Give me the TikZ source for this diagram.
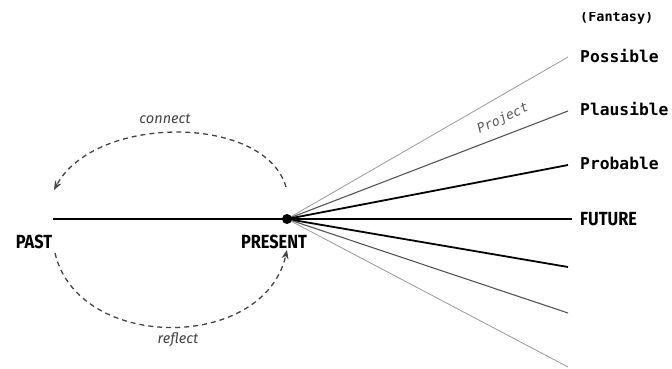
\documentclass[tikz,border=0pt]{standalone}
\usepackage{fontspec}
\setmainfont{Fira Sans}
\newfontfamily\monof{DejaVu Sans Mono}
\usetikzlibrary{arrows.meta}
\definecolor{arcgray}{HTML}{444444}
\definecolor{midgray}{HTML}{555555}
\definecolor{lightgray}{HTML}{9A9A9A}
\newcommand{\cond}[1]{\scalebox{0.86}[1]{#1}}
\tikzset{
  bigword/.style={font=\fontsize{19}{19}\selectfont\bfseries, inner sep=0pt},
  monoword/.style={font=\monof\bfseries\fontsize{16.3}{16.3}\selectfont, inner sep=0pt, anchor=west},
  slanted/.style={font=\itshape\fontsize{14.5}{14.5}\selectfont, text=arcgray, inner sep=0pt},
  arcline/.style={draw=arcgray, line width=1.3pt, dash pattern=on 5pt off 4pt, -{Stealth[length=9pt,width=7pt]}},
  raythin/.style={draw=lightgray, line width=0.8pt},
  raymid/.style={draw=midgray, line width=1.1pt},
  raythick/.style={draw=black, line width=1.8pt},
}
\begin{document}
\begin{tikzpicture}[x=1pt,y=-1pt]
\useasboundingbox (0,0) rectangle (672,368);
% coordinates
\coordinate (pastend) at (53,219);
\coordinate (e1) at (568,57);
\coordinate (e2) at (568,111);
\coordinate (e3) at (568,165);
\coordinate (e4) at (572,219);
\coordinate (e5) at (568,267);
\coordinate (e6) at (568,313);
\coordinate (e7) at (568,367);
% rays
\draw[raythin] (287,219) -- (e1);
\draw[raymid] (287,219) -- (e2);
\draw[raythick] (287,219) -- (e3);
\draw[raythick, line width=2pt] (pastend) -- (e4);
\draw[raythick] (287,219) -- (e5);
\draw[raymid] (287,219) -- (e6);
\draw[raythin] (287,219) -- (e7);
\node[circle, fill=black, minimum size=10pt, inner sep=0pt] (present) at (287,219) {};
% labels
\node[bigword] (past) at (34,241.5) {\cond{PAST}};
\node[bigword] (presentlbl) at (274,241.5) {\cond{PRESENT}};
\node[bigword, anchor=west] (future) at (580,219) {\cond{FUTURE}};
\node[monoword] (probable) at (580,163) {Probable};
\node[monoword] (plausible) at (580,109) {Plausible};
\node[monoword] (possible) at (580,56) {Possible};
\begin{scope}
\clip (560,12.8) rectangle (672,40);
\node[monoword, font=\monof\bfseries\fontsize{13.5}{13.5}\selectfont] (fantasy) at (580,17.5) {(Fantasy)};
\end{scope}
\node[slanted] (connect) at (165,119) {connect};
\node[slanted] (reflect) at (178,340) {reflect};
\node[font=\monof\itshape\fontsize{13}{13}\selectfont, text=midgray, rotate=25, inner sep=0pt] (project) at (503,119) {Project};
% arcs
\coordinate (c1s) at (286,187);
\coordinate (c1e) at (54,190);
\coordinate (r1s) at (55,253);
\coordinate (r1e) at (287,250);
\draw[arcline] (c1s) .. controls (265,114) and (95,114) .. (c1e);
\draw[arcline] (r1s) .. controls (78,352) and (264,352) .. (r1e);
\end{tikzpicture}
\end{document}
